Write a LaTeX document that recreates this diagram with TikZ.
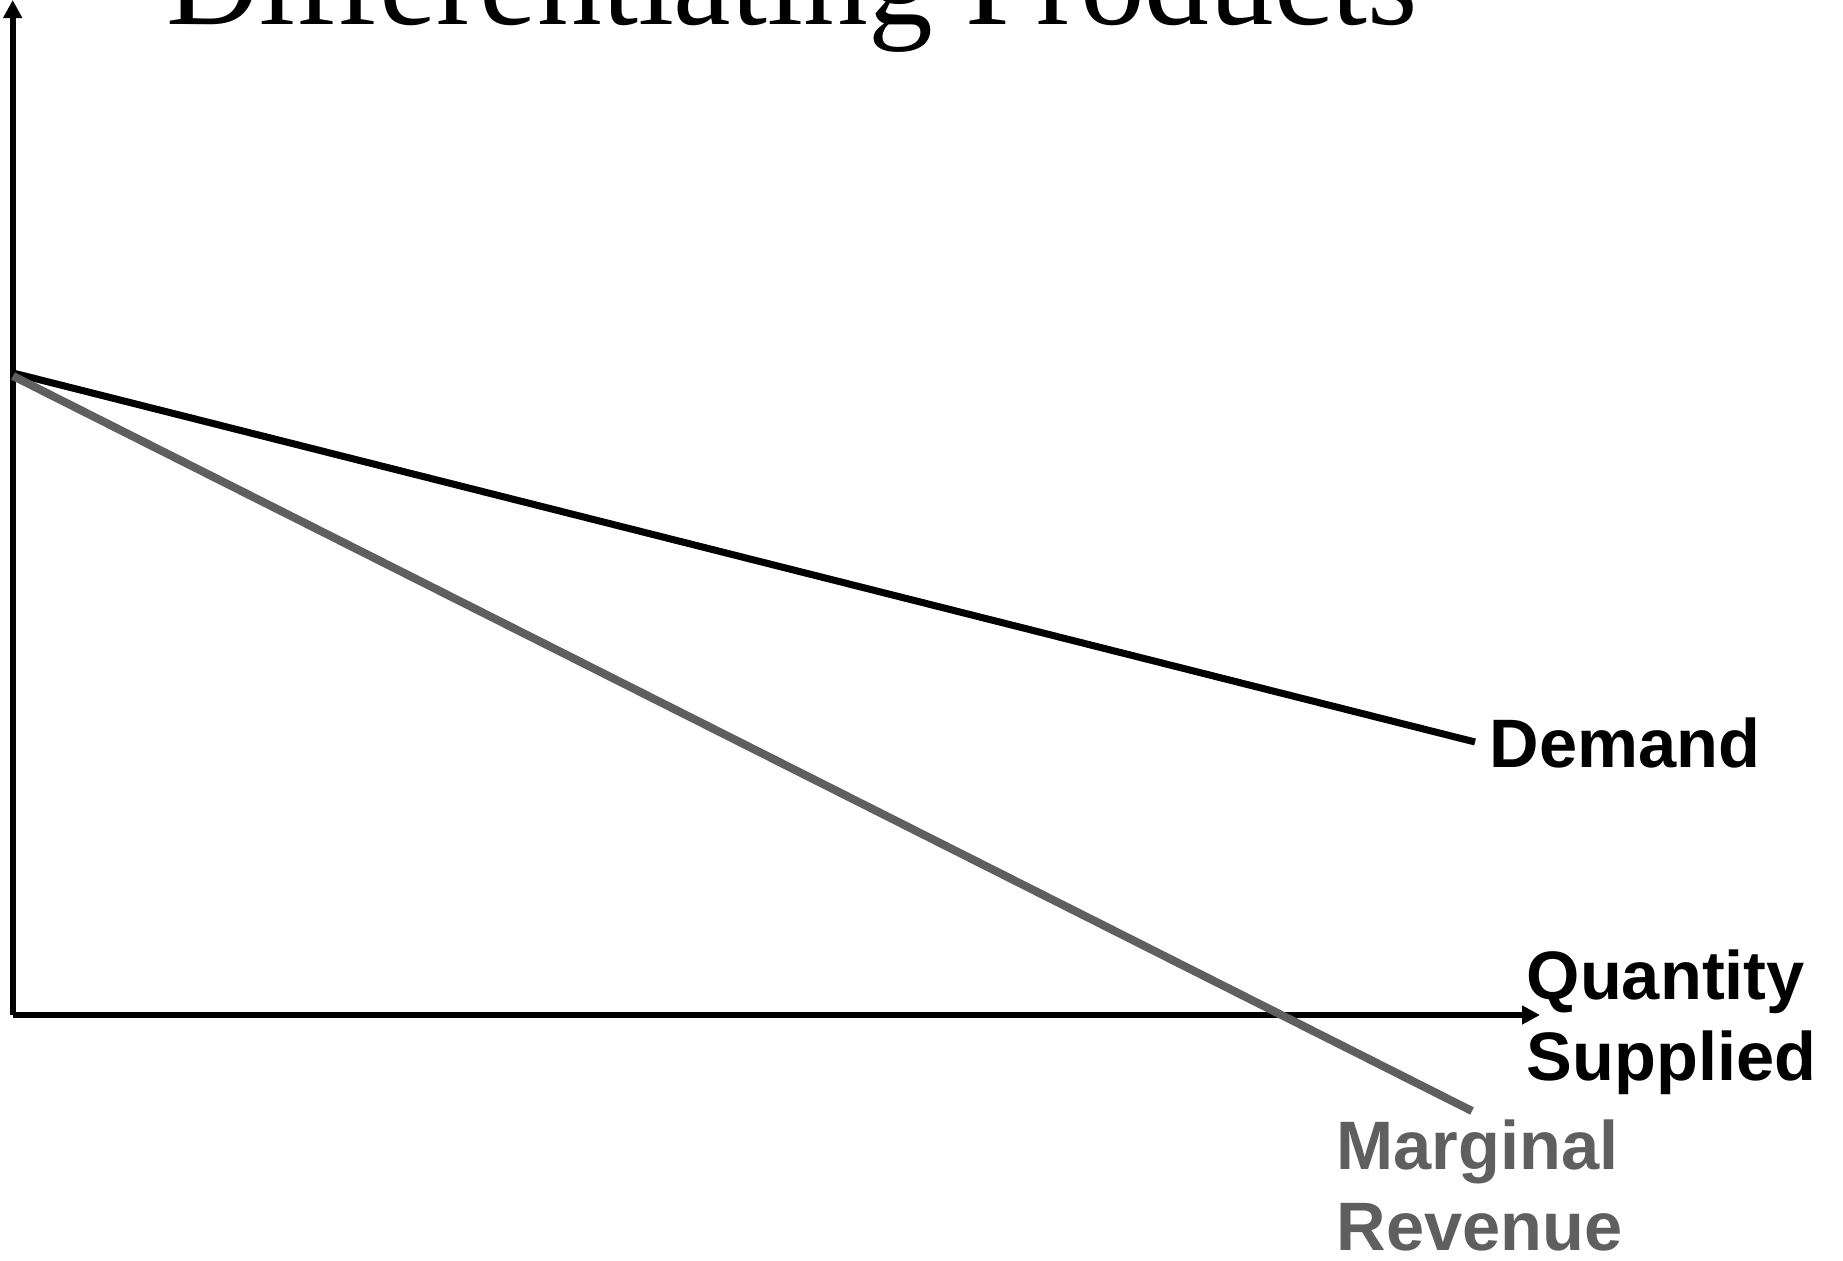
\documentclass[tikz,border=0pt]{standalone}
\usepackage{fontspec}
\setmainfont{Liberation Serif}
\newfontfamily\labelfont{Liberation Sans}
\usetikzlibrary{arrows.meta}
\definecolor{mrgray}{RGB}{95,95,95}

\begin{document}
\begin{tikzpicture}[x=0.01cm, y=-0.01cm,
  axis/.style={line width=1.6pt, -{Triangle[length=0.18cm, width=0.18cm]}},
  curvelabel/.style={inner sep=0pt, align=left, font=\labelfont\bfseries\fontsize{19.5}{22.8}\selectfont}]
  \useasboundingbox (0,0) rectangle (1843,1261);

  % Define points
  \coordinate (o) at (12.7,1015);
  \coordinate (ytop) at (12.7,0);
  \coordinate (xend) at (1540,1015);
  \coordinate (dstart) at (13,373);
  \coordinate (dend) at (1475,742);
  \coordinate (mrstart) at (13,376);
  \coordinate (mrend) at (1472,1111);

  % Title and labels
  \node[inner sep=0pt, anchor=base, font=\fontsize{36.8}{40}\selectfont] (title) at (792,25) {Differentiating Products};
  \node[curvelabel, anchor=base west] (demand) at (1489,767) {Demand};
  \node[curvelabel, anchor=base west] (quantity) at (1526,1080) {Quantity\\Supplied};
  \node[curvelabel, anchor=base west, text=mrgray] (mr) at (1336,1250) {Marginal\\Revenue};

  % Draw axes
  \draw[axis] (o) -- (ytop);
  \draw[axis] (o) -- (xend);

  % Draw curves
  \draw[line width=2pt] (dstart) -- (dend);
  \draw[line width=2.3pt, mrgray] (mrstart) -- (mrend);
\end{tikzpicture}
\end{document}
